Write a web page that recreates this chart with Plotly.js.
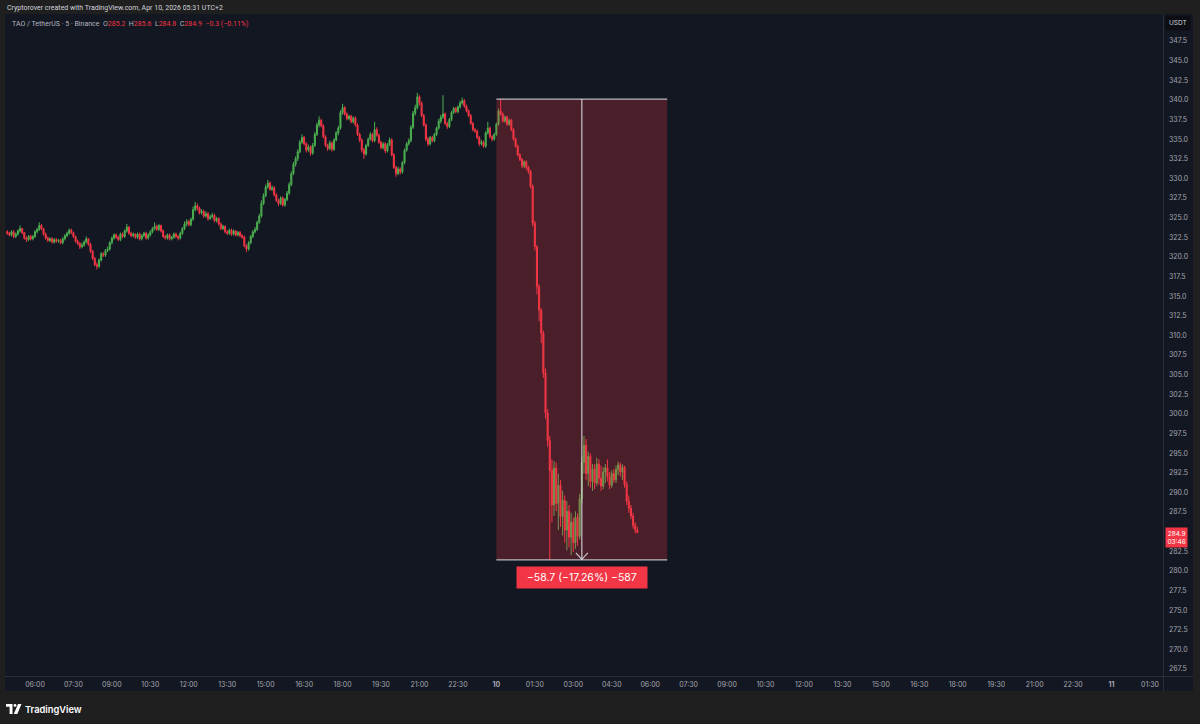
<!DOCTYPE html>
<html><head><meta charset="utf-8">
<script src="https://cdn.plot.ly/plotly-3.0.1.min.js"></script>
<style>html,body{margin:0;padding:0;background:#1f1f1f;}#chart{width:1200px;height:724px;}</style>
</head><body><div id="chart"></div>
<script>
// ---- data (5-minute candles, TAO/USDT, Binance) ----
const startTime = [2026, 3, 9, 4, 55]; // 2026-04-09 04:55
const barMinutes = 5;

const open = [
 323.2,323.0,322.8,323.2,322.6,322.9,323.3,323.6,323.1,322.4,322.2,322.6,
 322.3,322.6,323.2,323.5,324.0,323.6,322.9,322.4,322.1,322.3,321.9,322.2,
 322.0,322.1,321.8,322.3,322.7,323.0,323.4,323.1,322.6,322.0,321.7,321.3,
 321.5,321.9,322.3,321.6,320.7,319.8,319.0,318.8,319.6,320.4,320.2,320.8,
 321.0,321.8,322.4,322.8,322.5,322.2,322.9,322.6,323.3,323.8,323.0,322.7,
 322.9,322.5,322.9,322.3,322.7,323.0,322.4,322.8,323.2,323.6,323.9,323.5,
 324.0,323.3,322.6,322.4,322.8,322.3,322.5,322.9,322.6,322.4,323.0,323.6,
 324.2,324.5,324.1,324.8,326.0,326.5,326.2,325.6,325.8,325.2,325.5,324.9,
 325.1,325.3,324.6,324.9,324.2,323.6,323.9,323.2,323.0,323.4,322.9,323.3,
 322.8,323.1,322.7,322.5,321.4,321.0,321.8,322.6,323.2,323.5,324.4,325.2,
 326.8,327.8,328.9,329.4,328.6,328.8,327.9,327.2,326.8,327.5,326.6,327.3,
 328.1,329.2,330.6,331.8,332.5,333.4,334.6,335.2,334.4,333.6,334.0,333.2,
 334.2,335.6,336.8,337.4,336.7,335.3,334.2,333.8,334.5,333.7,334.9,335.8,
 336.4,338.4,339.0,338.2,337.6,337.9,337.2,337.7,336.8,335.6,334.9,333.6,
 333.1,334.2,335.0,335.6,334.8,336.2,335.5,334.6,333.9,334.4,333.5,334.3,
 334.9,333.0,331.4,330.6,331.2,330.8,332.0,333.6,334.4,334.8,336.5,338.3,
 339.0,340.4,339.6,338.0,336.8,335.0,334.4,335.2,334.8,335.6,336.4,337.3,
 337.8,338.2,337.0,336.6,337.5,338.4,338.9,338.5,339.1,339.6,339.9,339.2,
 338.6,338.0,337.0,336.2,336.0,335.2,334.4,334.6,334.1,335.8,336.4,335.3,
 335.0,335.6,336.9,338.6,338.2,337.3,337.8,336.9,337.4,336.2,335.0,334.1,
 333.0,332.4,331.6,332.1,331.4,330.9,329.0,324.3,321.3,316.2,313.2,310.3,
 305.2,300.1,296.6,292.8,288.4,293.1,288.6,290.9,286.9,289.0,285.2,287.6,
 284.3,286.2,283.6,286.8,284.4,289.2,293.8,296.0,292.4,294.6,291.4,293.0,
 291.2,293.6,291.8,290.8,292.6,293.1,292.0,290.9,292.4,291.6,292.9,293.5,
 292.6,293.2,291.0,288.9,288.0,287.0,285.8,285.2
];
const high = [
 323.4,323.2,323.4,323.4,323.1,323.5,324.0,323.7,323.2,322.6,322.8,322.8,
 322.8,323.4,323.7,324.4,324.2,323.7,323.1,322.6,322.5,322.5,322.4,322.4,
 322.3,322.3,322.5,322.9,323.2,323.6,323.6,323.2,322.7,322.2,321.9,321.8,
 322.1,322.6,322.4,321.8,320.9,320.0,319.3,319.8,320.6,320.6,321.0,321.3,
 322.0,322.6,323.0,323.0,322.7,323.1,323.1,323.5,324.2,323.9,323.2,323.1,
 323.0,323.1,323.1,322.9,323.2,323.2,323.0,323.4,323.8,324.4,324.1,324.2,
 324.1,323.5,322.8,323.0,323.0,322.7,323.1,323.1,322.8,323.2,323.8,324.5,
 324.8,324.7,325.0,326.4,327.0,326.8,326.4,326.1,326.0,325.8,325.7,325.4,
 325.6,325.5,325.1,325.0,324.4,324.1,324.0,323.4,323.6,323.6,323.5,323.4,
 323.3,323.3,322.9,322.7,321.6,322.0,322.8,323.4,323.8,324.6,325.5,327.2,
 328.1,329.2,329.8,329.6,329.1,329.0,328.1,327.4,327.7,327.7,327.5,328.4,
 329.5,330.9,332.1,332.8,333.7,334.9,335.6,335.4,334.6,334.3,334.2,334.5,
 335.9,337.1,337.9,337.6,336.9,335.5,334.4,334.8,334.7,335.1,336.0,336.7,
 338.7,339.5,339.2,338.4,338.1,338.1,337.9,337.9,337.0,335.8,335.1,333.9,
 334.4,335.2,335.9,335.8,337.2,336.5,335.7,334.8,334.6,334.6,334.5,335.2,
 335.1,333.2,331.6,331.5,331.4,332.2,333.8,334.6,335.1,336.8,338.6,339.4,
 340.9,340.6,339.8,338.2,337.0,335.3,335.4,335.4,335.8,336.6,337.6,338.1,
 340.6,338.4,337.2,337.7,338.6,339.1,339.1,339.3,339.9,340.3,340.1,339.4,
 338.8,338.2,337.2,336.4,336.2,335.4,334.9,334.8,336.0,337.2,336.6,335.5,
 335.8,337.1,338.9,340.1,338.4,338.0,338.0,337.6,337.6,336.4,335.2,334.3,
 333.2,332.6,332.3,332.3,331.6,331.1,329.2,324.6,321.5,316.5,313.5,310.6,
 305.8,300.6,297.2,294.2,294.0,293.8,292.4,291.6,290.2,289.6,288.9,288.4,
 287.4,286.8,287.6,287.3,289.8,294.6,297.2,296.8,295.2,295.0,293.6,293.6,
 294.4,294.2,293.4,293.2,293.6,294.2,292.6,292.8,293.0,293.4,293.9,293.8,
 293.6,293.4,291.4,289.6,288.4,287.4,286.2,285.6
];
const low = [
 322.8,322.6,322.6,322.4,322.4,322.7,323.1,322.9,322.2,321.9,322.0,322.1,
 322.1,322.4,323.0,323.3,323.4,322.7,322.2,321.9,321.9,321.7,321.7,321.8,
 321.8,321.6,321.6,322.1,322.5,322.8,322.9,322.4,321.8,321.5,321.0,321.1,
 321.3,321.7,321.4,320.5,319.6,318.8,318.4,318.6,319.4,320.0,320.0,320.6,
 320.8,321.6,322.2,322.3,322.0,322.0,322.4,322.4,323.1,322.8,322.5,322.5,
 322.3,322.3,322.1,322.1,322.5,322.2,322.2,322.6,323.0,323.4,323.3,323.3,
 323.1,322.4,322.2,322.2,322.1,322.1,322.3,322.4,322.1,322.2,322.8,323.4,
 323.9,323.9,323.9,324.6,325.8,325.9,325.4,325.4,325.0,325.0,324.6,324.7,
 324.9,324.4,324.4,324.0,323.4,323.4,323.0,322.8,322.8,322.7,322.7,322.6,
 322.6,322.5,322.3,321.2,320.6,320.8,321.6,322.4,323.0,323.3,324.2,325.0,
 326.6,327.6,328.7,328.4,328.4,327.7,327.0,326.5,326.6,326.4,326.4,327.1,
 327.9,329.0,330.4,331.5,332.2,333.2,334.4,334.2,333.3,333.4,332.9,333.0,
 334.0,335.4,336.5,336.5,335.1,334.0,333.5,333.6,333.4,333.5,334.7,335.5,
 336.2,338.1,338.0,337.4,337.4,337.0,337.0,336.6,335.4,334.6,333.3,332.5,
 332.9,334.0,334.8,334.6,334.6,335.3,334.4,333.7,333.7,333.2,333.3,334.1,
 332.8,331.2,330.2,330.4,330.5,330.6,331.8,333.4,334.2,334.6,336.3,338.0,
 338.8,339.3,337.8,336.6,334.7,334.1,334.2,334.6,334.6,335.4,336.2,337.0,
 337.6,336.8,336.3,336.4,337.3,338.2,338.3,338.3,338.9,339.4,339.0,338.4,
 337.8,336.8,336.0,335.8,335.0,334.1,334.2,333.9,333.9,335.6,335.1,334.7,
 334.8,335.4,336.7,338.0,337.1,337.1,336.7,336.7,336.0,334.8,333.9,332.8,
 332.2,331.3,331.3,331.1,330.6,328.7,323.9,320.8,315.2,311.8,309.0,304.6,
 299.4,295.8,281.4,286.2,287.0,287.6,285.2,285.6,284.5,283.6,282.6,283.0,
 282.0,282.4,282.8,283.2,284.0,288.6,292.4,291.6,290.8,290.6,290.2,290.4,
 290.8,291.0,290.2,290.4,291.2,291.4,290.4,290.6,291.2,291.2,292.2,292.0,
 291.6,290.6,288.4,287.4,286.6,285.4,284.8,284.8
];
const close = [
 323.0,322.8,323.2,322.6,322.9,323.3,323.6,323.1,322.4,322.2,322.6,322.3,
 322.6,323.2,323.5,324.0,323.6,322.9,322.4,322.1,322.3,321.9,322.2,322.0,
 322.1,321.8,322.3,322.7,323.0,323.4,323.1,322.6,322.0,321.7,321.3,321.5,
 321.9,322.3,321.6,320.7,319.8,319.0,318.8,319.6,320.4,320.2,320.8,321.0,
 321.8,322.4,322.8,322.5,322.2,322.9,322.6,323.3,323.8,323.0,322.7,322.9,
 322.5,322.9,322.3,322.7,323.0,322.4,322.8,323.2,323.6,323.9,323.5,324.0,
 323.3,322.6,322.4,322.8,322.3,322.5,322.9,322.6,322.4,323.0,323.6,324.2,
 324.5,324.1,324.8,326.0,326.5,326.2,325.6,325.8,325.2,325.5,324.9,325.1,
 325.3,324.6,324.9,324.2,323.6,323.9,323.2,323.0,323.4,322.9,323.3,322.8,
 323.1,322.7,322.5,321.4,321.0,321.8,322.6,323.2,323.5,324.4,325.2,326.8,
 327.8,328.9,329.4,328.6,328.8,327.9,327.2,326.8,327.5,326.6,327.3,328.1,
 329.2,330.6,331.8,332.5,333.4,334.6,335.2,334.4,333.6,334.0,333.2,334.2,
 335.6,336.8,337.4,336.7,335.3,334.2,333.8,334.5,333.7,334.9,335.8,336.4,
 338.4,339.0,338.2,337.6,337.9,337.2,337.7,336.8,335.6,334.9,333.6,333.1,
 334.2,335.0,335.6,334.8,336.2,335.5,334.6,333.9,334.4,333.5,334.3,334.9,
 333.0,331.4,330.6,331.2,330.8,332.0,333.6,334.4,334.8,336.5,338.3,339.0,
 340.4,339.6,338.0,336.8,335.0,334.4,335.2,334.8,335.6,336.4,337.3,337.8,
 338.2,337.0,336.6,337.5,338.4,338.9,338.5,339.1,339.6,339.9,339.2,338.6,
 338.0,337.0,336.2,336.0,335.2,334.4,334.6,334.1,335.8,336.4,335.3,335.0,
 335.6,336.9,338.6,338.2,337.3,337.8,336.9,337.4,336.2,335.0,334.1,333.0,
 332.4,331.6,332.1,331.4,330.9,329.0,324.3,321.3,316.2,313.2,310.3,305.2,
 300.1,296.6,292.8,288.4,293.1,288.6,290.9,286.9,289.0,285.2,287.6,284.3,
 286.2,283.6,286.8,284.4,289.2,293.8,296.0,292.4,294.6,291.4,293.0,291.2,
 293.6,291.8,290.8,292.6,293.1,292.0,290.9,292.4,291.6,292.9,293.5,292.6,
 293.2,291.0,288.9,288.0,287.0,285.8,285.2,284.9
];

const xTickLabels = ['06:00','07:30','09:00','10:30','12:00','13:30','15:00','16:30','18:00','19:30','21:00','22:30','<b>10</b>','01:30','03:00','04:30','06:00','07:30','09:00','10:30','12:00','13:30','15:00','16:30','18:00','19:30','21:00','22:30','<b>11</b>','01:30'];
const firstTick = [2026, 3, 9, 6, 0];
const tickStepMinutes = 90;

// price-axis labels (285.0 is hidden behind the last-price tag in the original)
const yTickLabels = ['347.5','345.0','342.5','340.0','337.5','335.0','332.5','330.0','327.5','325.0','322.5','320.0','317.5','315.0','312.5','310.0','307.5','305.0','302.5','300.0','297.5','295.0','292.5','290.0','287.5','282.5','280.0','277.5','275.0','272.5','270.0','267.5'];

// price-range measurement drawn on the chart
const measureStart = '2026-04-10 00:00';
const measureEnd = '2026-04-10 06:40';
const measureMid = '2026-04-10 03:20';
const measureHigh = 340.1;
const measureLow = 281.4;
const measureText = '\u221258.7 (\u221217.26%) \u2212587';
const countdown = '03:46';

// ---- helpers ----
function fmt(ms){ return new Date(ms).toISOString().slice(0,16).replace('T',' '); }
const t0 = Date.UTC(...startTime);
const times = close.map((_, i) => fmt(t0 + i*barMinutes*60000));
const k0 = Date.UTC(...firstTick);
const tickVals = xTickLabels.map((_, i) => fmt(k0 + i*tickStepMinutes*60000));

const L = 5, R = 1163, T = 14, B = 676;
const px = x => (x - L) / (R - L);
const py = y => (B - y) / (B - T);

const UP = '#4caf50', DOWN = '#f23645';
const FONT = 'Inter, "Noto Sans", sans-serif';
const HFONT = 'Roboto, Inter, sans-serif';
const FRAME = '#1f1f1f', SEP = '#2a2e39';

const trace = {
  type: 'candlestick', x: times, open: open, high: high, low: low, close: close,
  increasing: {line: {color: UP, width: 1}, fillcolor: UP},
  decreasing: {line: {color: DOWN, width: 1}, fillcolor: DOWN},
  whiskerwidth: 0, hoverinfo: 'skip', showlegend: false
};

const shapes = [
  // measurement box
  {type:'rect', xref:'x', yref:'y', x0:measureStart, x1:measureEnd, y0:measureLow, y1:measureHigh,
   fillcolor:'rgba(242,54,69,0.25)', line:{width:0}, layer:'above'},
  {type:'line', xref:'x', yref:'y', x0:measureStart, x1:measureEnd, y0:measureHigh, y1:measureHigh,
   line:{color:'rgba(209,212,220,0.85)', width:1.3}, layer:'above'},
  {type:'line', xref:'x', yref:'y', x0:measureStart, x1:measureEnd, y0:measureLow, y1:measureLow,
   line:{color:'rgba(209,212,220,0.85)', width:1.3}, layer:'above'},
  {type:'line', xref:'x', yref:'y', x0:measureMid, x1:measureMid, y0:measureLow, y1:measureHigh,
   line:{color:'rgba(209,212,220,0.85)', width:1.3}, layer:'above'},
  {type:'path', xref:'x', yref:'y', xsizemode:'pixel', ysizemode:'pixel', xanchor:measureMid, yanchor:measureLow,
   path:'M-6,7 L0,0.5 L6,7', line:{color:'rgba(209,212,220,0.9)', width:1.3}, layer:'above'},
  // outer frame
  {type:'rect', xref:'paper', yref:'paper', x0:px(0), x1:px(1200), y0:py(14), y1:py(0), fillcolor:FRAME, line:{width:0}, layer:'above'},
  {type:'rect', xref:'paper', yref:'paper', x0:px(0), x1:px(1200), y0:py(724), y1:py(691), fillcolor:FRAME, line:{width:0}, layer:'above'},
  {type:'rect', xref:'paper', yref:'paper', x0:px(0), x1:px(5), y0:py(724), y1:py(0), fillcolor:FRAME, line:{width:0}, layer:'above'},
  {type:'rect', xref:'paper', yref:'paper', x0:px(1193), x1:px(1200), y0:py(724), y1:py(0), fillcolor:FRAME, line:{width:0}, layer:'above'},
  // separators
  {type:'line', xref:'paper', yref:'paper', x0:px(1163.5), x1:px(1163.5), y0:py(691), y1:py(14), line:{color:SEP, width:1}, layer:'above'},
  {type:'line', xref:'paper', yref:'paper', x0:px(5), x1:px(1193), y0:py(676.5), y1:py(676.5), line:{color:SEP, width:1}, layer:'above'},
  // TradingView logo glyph
  {type:'path', xref:'paper', yref:'paper', xsizemode:'pixel', ysizemode:'pixel', xanchor:px(6), yanchor:py(714),
   path:'M0,10 L6.5,10 L6.5,0 L3.6,0 L3.6,7.3 L0,7.3 Z', fillcolor:'#ffffff', line:{width:0}, layer:'above'},
  {type:'circle', xref:'paper', yref:'paper', xsizemode:'pixel', ysizemode:'pixel', xanchor:px(6), yanchor:py(714),
   x0:7.6, x1:10.4, y0:7.2, y1:10, fillcolor:'#ffffff', line:{width:0}, layer:'above'},
  {type:'path', xref:'paper', yref:'paper', xsizemode:'pixel', ysizemode:'pixel', xanchor:px(6), yanchor:py(714),
   path:'M12,10 L15.5,10 L11.3,0 L7.8,0 Z', fillcolor:'#ffffff', line:{width:0}, layer:'above'}
];

const n = close.length - 1;
const chg = close[n] - open[n];
const pct = chg / open[n] * 100;
const neg = v => (v < 0 ? '\u2212' : '') + Math.abs(v);
const red = s => '<span style="color:' + DOWN + '">' + s + '</span>';
const legendText = 'TAO / TetherUS \u00b7 5 \u00b7 Binance&nbsp;&nbsp;O' + red(open[n].toFixed(1)) +
  '&nbsp;&nbsp;H' + red(high[n].toFixed(1)) + '&nbsp;&nbsp;L' + red(low[n].toFixed(1)) +
  '&nbsp;&nbsp;C' + red(close[n].toFixed(1)) + '&nbsp;&nbsp;' +
  red(neg(+chg.toFixed(1)) + ' (' + neg(+pct.toFixed(2)) + '%)');

const annotations = [
  {xref:'paper', yref:'paper', x:px(5), y:py(8), xanchor:'left', yanchor:'middle', showarrow:false,
   text:'Cryptorover created with TradingView.com, Apr 10, 2026 05:31 UTC+2', font:{family:HFONT, size:7, color:'#d1d4dc'}},
  {xref:'paper', yref:'paper', x:px(10), y:py(24), xanchor:'left', yanchor:'middle', showarrow:false,
   text:legendText, font:{family:HFONT, size:7, color:'#b2b5be'}},
  {xref:'paper', yref:'paper', x:px(1177.5), y:py(23), xanchor:'center', yanchor:'middle', showarrow:false,
   text:'USDT', font:{family:FONT, size:6.5, color:'#d1d4dc'}, bgcolor:'#0c0e13', borderpad:3},
  {xref:'paper', yref:'y', x:px(1176.5), y:close[n], xanchor:'center', yanchor:'top', yshift:5, showarrow:false,
   text:close[n].toFixed(1) + '<br>' + countdown, font:{family:FONT, size:6.5, color:'#ffffff'},
   bgcolor:DOWN, borderpad:1.5, align:'center'},
  {xref:'x', yref:'y', x:measureMid, y:measureLow, xanchor:'center', yanchor:'top', yshift:-6, showarrow:false,
   text:'&nbsp;&nbsp;' + measureText + '&nbsp;&nbsp;', font:{family:FONT, size:10.5, color:'#ffffff'}, bgcolor:DOWN, borderpad:4},
  {xref:'paper', yref:'paper', x:px(23), y:py(709), xanchor:'left', yanchor:'middle', showarrow:false,
   text:'TradingView', font:{family:FONT, size:9.3, color:'#ffffff', weight:600}}
];

const layout = {
  width:1200, height:724,
  margin:{l:L, r:1200-R, t:T, b:724-B, pad:0},
  paper_bgcolor:'#131722', plot_bgcolor:'#131722',
  font:{family:FONT, color:'#a3a6af', size:7},
  showlegend:false, hovermode:false,
  xaxis:{type:'date', range:['2026-04-09 04:49:48','2026-04-11 02:00:24'], rangeslider:{visible:false},
    tickmode:'array', tickvals:tickVals, ticktext:xTickLabels, showgrid:false, zeroline:false,
    showline:false, ticks:'', tickfont:{family:FONT, size:7, color:'#a3a6af'}, ticklabelstandoff:3},
  yaxis:{side:'right', range:[266.61, 350.94], tickmode:'array',
    tickvals:yTickLabels.map(Number), ticktext:yTickLabels,
    showgrid:false, zeroline:false, showline:false, ticks:'',
    tickfont:{family:FONT, size:7, color:'#a3a6af'}, ticklabelstandoff:5},
  shapes:shapes, annotations:annotations
};

Plotly.newPlot('chart', [trace], layout, {displayModeBar:false, staticPlot:true});
</script>
</body></html>
